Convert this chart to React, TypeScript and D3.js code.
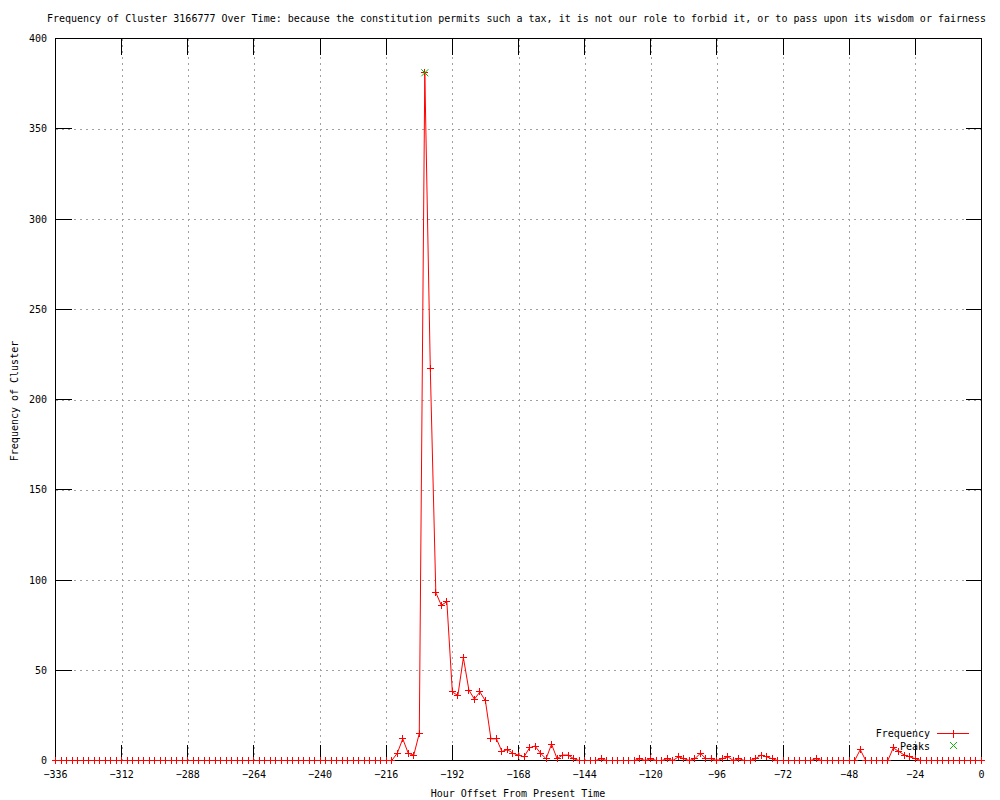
import React from "react";
import * as d3 from "d3";

const TITLE =
  "Frequency of Cluster 3166777 Over Time: because the constitution permits such a tax, it is not our role to forbid it, or to pass upon its wisdom or fairness";
const X_LABEL = "Hour Offset From Present Time";
const Y_LABEL = "Frequency of Cluster";

// hour offsets, one sample every 2 hours from -336 to 0
const hours: number[] = d3.range(-336, 1, 2);

// frequency values, 12 samples (24 hours) per row
const freq: number[] = [
  0, 0, 0, 0, 0, 0, 0, 0, 0, 0, 0, 0, // -336 .. -314
  0, 0, 0, 0, 0, 0, 0, 0, 0, 0, 0, 0, // -312 .. -290
  0, 0, 0, 0, 0, 0, 0, 0, 0, 0, 0, 0, // -288 .. -266
  0, 0, 0, 0, 0, 0, 0, 0, 0, 0, 0, 0, // -264 .. -242
  0, 0, 0, 0, 0, 0, 0, 0, 0, 0, 0, 0, // -240 .. -218
  0, 0, 4, 12, 4, 3, 15, 381, 217, 93, 86, 88, // -216 .. -194
  38, 36, 57, 39, 34, 38, 33, 12, 12, 5, 6, 4, // -192 .. -170
  3, 2, 7, 8, 4, 1, 9, 1, 3, 3, 1, 0, // -168 .. -146
  0, 0, 0, 1, 0, 0, 0, 0, 0, 0, 1, 0, // -144 .. -122
  1, 0, 0, 1, 0, 2, 1, 0, 1, 4, 1, 1, // -120 .. -98
  0, 1, 2, 0, 1, 0, 0, 1, 3, 2, 1, 0, // -96 .. -74
  0, 0, 0, 0, 0, 0, 1, 0, 0, 0, 0, 0, // -72 .. -50
  0, 0, 6, 0, 0, 0, 0, 0, 7, 5, 3, 2, // -48 .. -26
  1, 0, 0, 0, 0, 0, 0, 0, 0, 0, 0, 0, // -24 .. -2
  0, // 0
];

const peakHours: number[] = [-202];
const peakValues: number[] = [381];

const xTicks: number[] = [-336, -312, -288, -264, -240, -216, -192, -168, -144, -120, -96, -72, -48, -24, 0];
const yTicks: number[] = [0, 50, 100, 150, 200, 250, 300, 350, 400];

const FONT = "'DejaVu Sans Mono', 'Liberation Mono', monospace";

export default function App() {
  React.useEffect(() => {
    document.body.style.margin = "0";
  }, []);

  const W = 1000;
  const H = 800;
  const left = 55.5;
  const right = 981.5;
  const top = 38.5;
  const bottom = 760.5;

  const x = d3.scaleLinear().domain([-336, 0]).range([left, right]);
  const y = d3.scaleLinear().domain([0, 400]).range([bottom, top]);

  const data = hours.map((h, i) => ({ h, v: freq[i] }));
  const line = d3
    .line<{ h: number; v: number }>()
    .x((d) => x(d.h))
    .y((d) => y(d.v));

  const tickLen = 16;
  const m = 3.5;
  const red = "#ff0000";
  const green = "#00c000";

  return (
    <svg
      width={W}
      height={H}
      style={{ position: "absolute", left: 0, top: 0, background: "#fff" }}
      fontFamily={FONT}
      fontSize={10}
    >
      <rect x={0} y={0} width={W} height={H} fill="#fff" />
      {/* grid */}
      <g stroke="#a0a0a0" strokeWidth={1} strokeDasharray="2,4" shapeRendering="crispEdges">
        {xTicks
          .filter((t) => t !== -336 && t !== 0)
          .map((t) => (
            <line key={"gx" + t} x1={Math.round(x(t)) + 0.5} x2={Math.round(x(t)) + 0.5} y1={top} y2={bottom} />
          ))}
        {yTicks
          .filter((t) => t !== 0 && t !== 400)
          .map((t) => (
            <line key={"gy" + t} x1={left} x2={right} y1={Math.round(y(t)) + 0.5} y2={Math.round(y(t)) + 0.5} />
          ))}
      </g>
      {/* ticks */}
      <g stroke="#000" strokeWidth={1} shapeRendering="crispEdges">
        {xTicks.map((t) => {
          const px = Math.round(x(t) - 0.5) + 0.5;
          return (
            <g key={"tx" + t}>
              <line x1={px} x2={px} y1={bottom} y2={bottom - tickLen} />
              <line x1={px} x2={px} y1={top} y2={top + tickLen} />
            </g>
          );
        })}
        {yTicks.map((t) => {
          const py = Math.round(y(t) - 0.5) + 0.5;
          return (
            <g key={"ty" + t}>
              <line x1={left} x2={left + tickLen} y1={py} y2={py} />
              <line x1={right} x2={right - tickLen} y1={py} y2={py} />
            </g>
          );
        })}
      </g>
      {/* tick labels */}
      <g fill="#000">
        {xTicks.map((t) => (
          <text key={"lx" + t} x={x(t)} y={778} textAnchor="middle">
            {t === 0 ? "0" : "\u2212" + Math.abs(t)}
          </text>
        ))}
        {yTicks.map((t) => (
          <text key={"ly" + t} x={47} y={y(t) + 3.5} textAnchor="end">
            {t}
          </text>
        ))}
      </g>
      {/* border */}
      <rect
        x={left}
        y={top}
        width={right - left}
        height={bottom - top}
        fill="none"
        stroke="#000"
        strokeWidth={1}
        shapeRendering="crispEdges"
      />
      {/* data line */}
      <path d={line(data) || ""} fill="none" stroke={red} strokeWidth={1} />
      <g stroke={red} strokeWidth={1} shapeRendering="crispEdges">
        {data.map((d, i) => (
          <g key={"p" + i} transform={`translate(${x(d.h)},${y(d.v)})`}>
            <line x1={-m} x2={m} y1={0} y2={0} />
            <line x1={0} x2={0} y1={-m} y2={m} />
          </g>
        ))}
      </g>
      {/* peaks */}
      <g stroke={green} strokeWidth={1}>
        {peakHours.map((h, i) => (
          <g key={"pk" + i} transform={`translate(${x(h)},${y(peakValues[i])})`}>
            <line x1={-m} x2={m} y1={-m} y2={m} />
            <line x1={-m} x2={m} y1={m} y2={-m} />
          </g>
        ))}
      </g>
      {/* legend */}
      <g>
        <text x={930} y={736.5} textAnchor="end">Frequency</text>
        <line x1={937} x2={969} y1={733.5} y2={733.5} stroke={red} shapeRendering="crispEdges" />
        <line x1={953.5} x2={953.5} y1={729.5} y2={737.5} stroke={red} shapeRendering="crispEdges" />
        <text x={930} y={749.5} textAnchor="end">Peaks</text>
        <g stroke={green} transform="translate(953.5,745.5)">
          <line x1={-m} x2={m} y1={-m} y2={m} />
          <line x1={-m} x2={m} y1={m} y2={-m} />
        </g>
      </g>
      {/* titles */}
      <text x={516.5} y={22} textAnchor="middle">{TITLE}</text>
      <text x={518} y={797} textAnchor="middle">{X_LABEL}</text>
      <text transform="translate(17.5,401) rotate(-90)" textAnchor="middle">{Y_LABEL}</text>
    </svg>
  );
}
